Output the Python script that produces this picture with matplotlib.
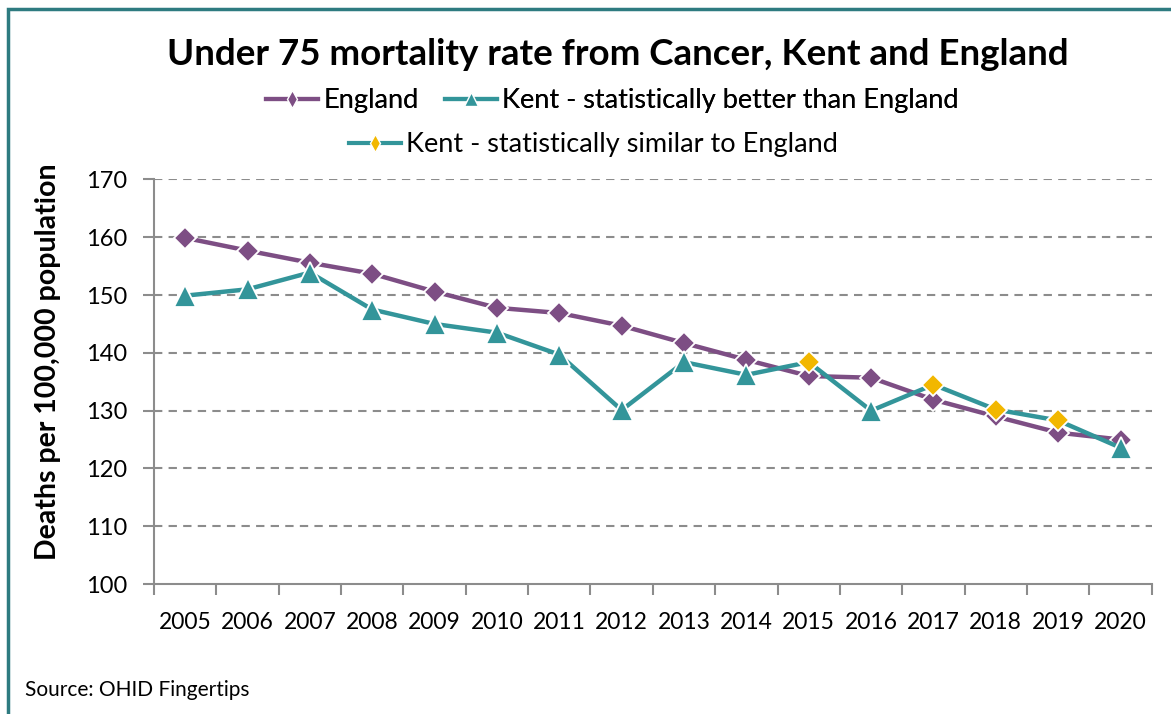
import matplotlib
matplotlib.use("Agg")
import matplotlib.pyplot as plt
from matplotlib.lines import Line2D
from matplotlib.patches import Rectangle

plt.rcParams['font.family'] = ['Lato', 'DejaVu Sans']

years = ['2005', '2006', '2007', '2008', '2009', '2010', '2011', '2012',
         '2013', '2014', '2015', '2016', '2017', '2018', '2019', '2020']
england = [159.9, 157.7, 155.6, 153.7, 150.6, 147.8, 146.9, 144.7,
           141.7, 138.8, 136.0, 135.7, 131.9, 129.0, 126.2, 125.0]
kent = [149.9, 151.0, 153.9, 147.5, 145.0, 143.5, 139.7, 130.1,
        138.4, 136.2, 138.4, 130.0, 134.5, 130.2, 128.3, 123.6]
# True where Kent is statistically similar to England, otherwise better
kent_similar = [False, False, False, False, False, False, False, False,
                False, False, True, False, True, True, True, False]

purple = '#7D4E84'
teal = '#33959A'
gold = '#F2B700'
grid_grey = '#8C8C8C'

fig = plt.figure(figsize=(11.71, 7.14), dpi=100)
ax = fig.add_axes([0.1315, 0.182, 0.852, 0.5666])

x = list(range(len(years)))
ax.plot(x, england, color=purple, lw=3.2, marker='D', ms=11.5,
        mfc=purple, mec='white', mew=1.3, zorder=3)
ax.plot(x, kent, color=teal, lw=3.2, zorder=4)
xb = [i for i in x if not kent_similar[i]]
xs = [i for i in x if kent_similar[i]]
ax.plot(xb, [kent[i] for i in xb], ls='none', marker='^', ms=16,
        mfc=teal, mec='white', mew=1.3, zorder=5)
ax.plot(xs, [kent[i] for i in xs], ls='none', marker='D', ms=11.5,
        mfc=gold, mec='white', mew=1.3, zorder=5)

ax.set_ylim(100, 170)
ax.set_yticks(range(100, 171, 10))
ax.set_xlim(-0.5, len(years) - 0.5)
ax.set_xticks(x)
ax.set_xticklabels(years)
ax.set_xticks([i - 0.5 for i in range(len(years) + 1)], minor=True)
ax.tick_params(axis='x', which='major', length=0, pad=20, labelsize=16.5)
ax.tick_params(axis='x', which='minor', length=8, width=1.5, color=grid_grey)
ax.tick_params(axis='y', length=8, width=1.5, color=grid_grey, labelsize=17, pad=11)

for y in range(110, 171, 10):
    ax.axhline(y, color=grid_grey, lw=1.5, ls=(0, (4, 3)), zorder=1)
for s in ['top', 'right']:
    ax.spines[s].set_visible(False)
for s in ['left', 'bottom']:
    ax.spines[s].set_color(grid_grey)
    ax.spines[s].set_linewidth(1.5)

ax.set_ylabel('Deaths per 100,000 population', fontsize=20.5, fontweight='bold')
ax.yaxis.set_label_coords(-0.093, 0.55)

fig.text(0.528, 0.923, 'Under 75 mortality rate from Cancer, Kent and England',
         ha='center', va='center', fontsize=26.5, fontweight='bold')

h1 = Line2D([], [], color=purple, lw=3, marker='d', ms=9, mfc=purple, mec='white')
h2 = Line2D([], [], color=teal, lw=3, marker='^', ms=10, mfc=teal, mec='white')
h3 = Line2D([], [], color=teal, lw=3, marker='d', ms=9, mfc=gold, mec='white')
leg1 = fig.legend([h1, h2], ['England', 'Kent - statistically better than England'],
                  loc='center', bbox_to_anchor=(0.523, 0.859), ncol=2, frameon=False,
                  fontsize=19.5, handlelength=1.9, handletextpad=0.2, columnspacing=1.0)
fig.add_artist(leg1)
fig.legend([h3], ['Kent - statistically similar to England'],
           loc='center', bbox_to_anchor=(0.507, 0.797), frameon=False,
           fontsize=19.5, handlelength=1.9, handletextpad=0.2)

fig.text(0.021, 0.034, 'Source: OHID Fingertips', ha='left', va='center', fontsize=15)

fig.patches.append(Rectangle((0.007, -0.1), 1.2, 1.087, transform=fig.transFigure,
                             fill=False, edgecolor='#2E7B80', lw=2.5))

fig.savefig('out.png', dpi=100)
